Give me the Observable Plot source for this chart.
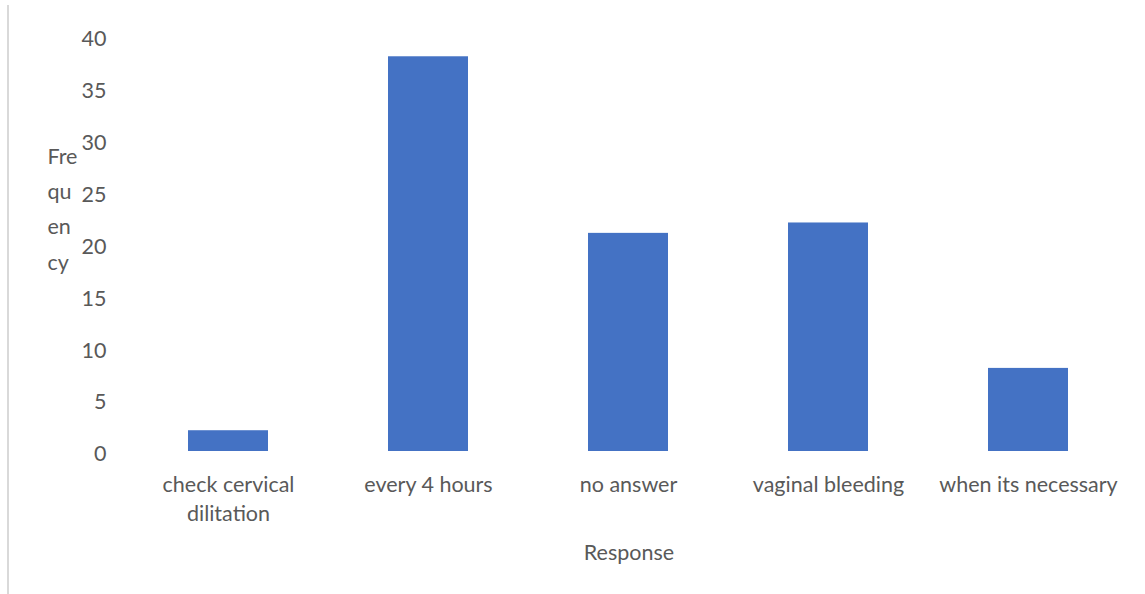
<!DOCTYPE html>
<html><head><meta charset="utf-8">
<script src="https://cdn.jsdelivr.net/npm/d3@7"></script>
<script src="https://cdn.jsdelivr.net/npm/@observablehq/plot@0.6"></script>
<style>
html,body{margin:0;padding:0;background:#fff;}
#wrap{position:relative;width:1145px;height:594px;overflow:hidden;}
#border{position:absolute;left:7px;top:5px;width:2px;height:589px;background:#d9d9d9;}
#wrap svg{position:absolute;left:0;top:0;}
</style></head><body><div id="wrap"><div id="border"></div></div>
<script>
const categories = ["check cervical dilitation", "every 4 hours", "no answer", "vaginal bleeding", "when its necessary"];
const tickLabels = ["check cervical\ndilitation", "every 4 hours", "no answer", "vaginal bleeding", "when its necessary"];
const frequencies = [2, 38, 21, 22, 8];
const yTicks = [0, 5, 10, 15, 20, 25, 30, 35, 40];
const yLabel = "Fre\nqu\nen\ncy";
const xLabel = "Response";

const data = categories.map((c, i) => ({category: c, value: frequencies[i]}));
const textColor = "#595959";

const chart = Plot.plot({
  width: 1145, height: 594,
  marginLeft: 128, marginRight: 16, marginTop: 35.5, marginBottom: 143,
  style: {fontFamily: "Lato, 'Liberation Sans', sans-serif", fontSize: "21.5px", color: textColor, background: "transparent"},
  x: {domain: categories, paddingInner: 0.6, paddingOuter: 0.3, label: null},
  y: {domain: [0, 40], label: null},
  marks: [
    Plot.barY(data, {x: "category", y: "value", fill: "#4472C4"}),
    Plot.axisY({ticks: yTicks, tickSize: 0, tickPadding: 22, dy: 3, label: null, fill: textColor}),
    Plot.axisX({tickSize: 0, tickPadding: 20, tickFormat: d => tickLabels[categories.indexOf(d)], lineHeight: 1.35, label: null, fill: textColor}),
    Plot.text([yLabel], {frameAnchor: "left", dx: -81, dy: -38, textAnchor: "start", lineHeight: 1.63, text: d => d, fill: textColor}),
    Plot.text([xLabel], {frameAnchor: "bottom", dy: 108, text: d => d, fill: textColor})
  ]
});
document.getElementById("wrap").appendChild(chart);
</script>
</body></html>
